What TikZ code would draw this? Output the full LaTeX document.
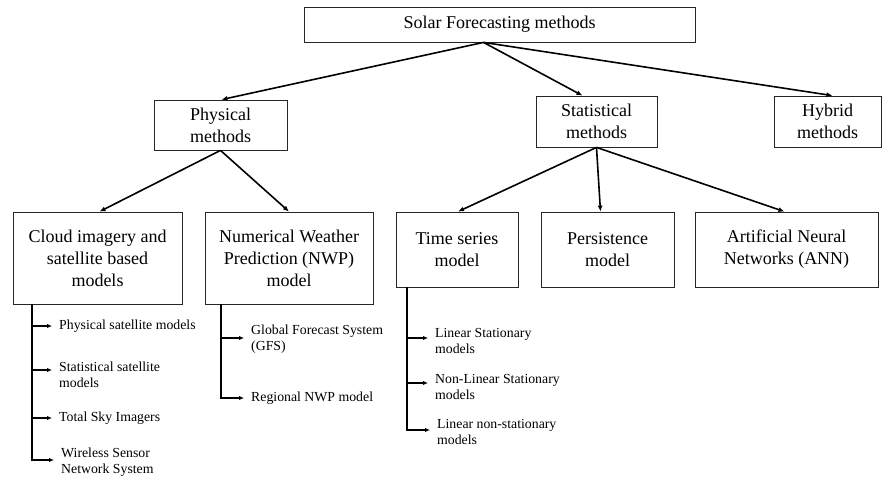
\documentclass[tikz,border=0pt]{standalone}
\usepackage{fontspec}
\setmainfont{Liberation Serif}
\usetikzlibrary{arrows.meta}
\begin{document}
\begin{tikzpicture}[x=1pt,y=-1pt,
  box/.style={draw=black!85, line width=0.8pt, align=center, inner sep=0pt,
    font=\fontsize{18}{22}\selectfont},
  conn/.style={line width=1.6pt, -{Latex[length=6pt,width=5pt]}},
  branch/.style={line width=1.6pt, -{Latex[length=5pt,width=4.5pt]}},
  item/.style={anchor=west, align=left, inner xsep=7pt, inner ysep=0pt,
    font=\fontsize{13.8}{16}\selectfont}]
\useasboundingbox (0,0) rectangle (883,479);
% main boxes
\node[box, minimum width=391pt, minimum height=35pt] (solar) at (499.5,24.5) {Solar Forecasting methods};
\node[box, minimum width=133pt, minimum height=50pt] (phys) at (220.5,125) {Physical\\methods};
\node[box, minimum width=121pt, minimum height=51pt] (stat) at (596.5,121.5) {Statistical\\methods};
\node[box, minimum width=107pt, minimum height=51pt] (hyb) at (827.5,121.5) {Hybrid\\methods};
\node[box, minimum width=169pt, minimum height=92pt] (cloud) at (97.5,258) {Cloud imagery and\\satellite based\\models};
\node[box, minimum width=168pt, minimum height=92pt] (nwp) at (289,258) {Numerical Weather\\Prediction (NWP)\\model};
\node[box, minimum width=122pt, minimum height=75pt] (ts) at (457,249.5) {Time series\\model};
\node[box, minimum width=133pt, minimum height=75pt] (pers) at (607.5,249.5) {Persistence\\model};
\node[box, minimum width=183pt, minimum height=75pt] (ann) at (786.5,249.5) {Artificial Neural\\Networks (ANN)};
% top-level connectors
\draw[conn] ([xshift=-16pt]solar.south) -- ([xshift=1pt]phys.north);
\draw[conn] ([xshift=-16pt]solar.south) -- ([xshift=-14pt]stat.north);
\draw[conn] ([xshift=-16pt]solar.south) -- ([xshift=5pt]hyb.north);
\draw[conn] (phys.south) -- ([xshift=2pt]cloud.north);
\draw[conn] (phys.south) -- (nwp.north);
\draw[conn] (stat.south) -- ([xshift=1pt]ts.north);
\draw[conn] (stat.south) -- ([xshift=-7pt]pers.north);
\draw[conn] (stat.south) -- ([xshift=-2pt]ann.north);
% cloud sub-items
\coordinate (cv) at (32,304);
\node[item] (c1) at (52,326) {Physical satellite models};
\node[item] (c2) at (52,375) {Statistical satellite\\models};
\node[item] (c3) at (52,418) {Total Sky Imagers};
\node[item] (c4) at (54,462) {Wireless Sensor\\Network System};
\draw[branch] (cv) |- (c1.west);
\draw[branch] (cv) |- ([yshift=5pt]c2.west);
\draw[branch] (cv) |- (c3.west);
\draw[branch] (cv) |- ([yshift=2pt]c4.west);
% NWP sub-items
\coordinate (nv) at (221,304);
\node[item] (n1) at (244,339) {Global Forecast System\\(GFS)};
\node[item] (n2) at (244,398) {Regional NWP model};
\draw[branch] (nv) |- ([yshift=1pt]n1.west);
\draw[branch] (nv) |- (n2.west);
% time series sub-items
\coordinate (tv) at (407,287);
\node[item] (t1) at (428,340.5) {Linear Stationary\\models};
\node[item] (t2) at (428,387) {Non-Linear Stationary\\models};
\node[item] (t3) at (430,431.5) {Linear non-stationary\\models};
\draw[branch] (tv) |- ([yshift=2.5pt]t1.west);
\draw[branch] (tv) |- ([yshift=4pt]t2.west);
\draw[branch] (tv) |- ([yshift=1.5pt]t3.west);
\end{tikzpicture}
\end{document}
